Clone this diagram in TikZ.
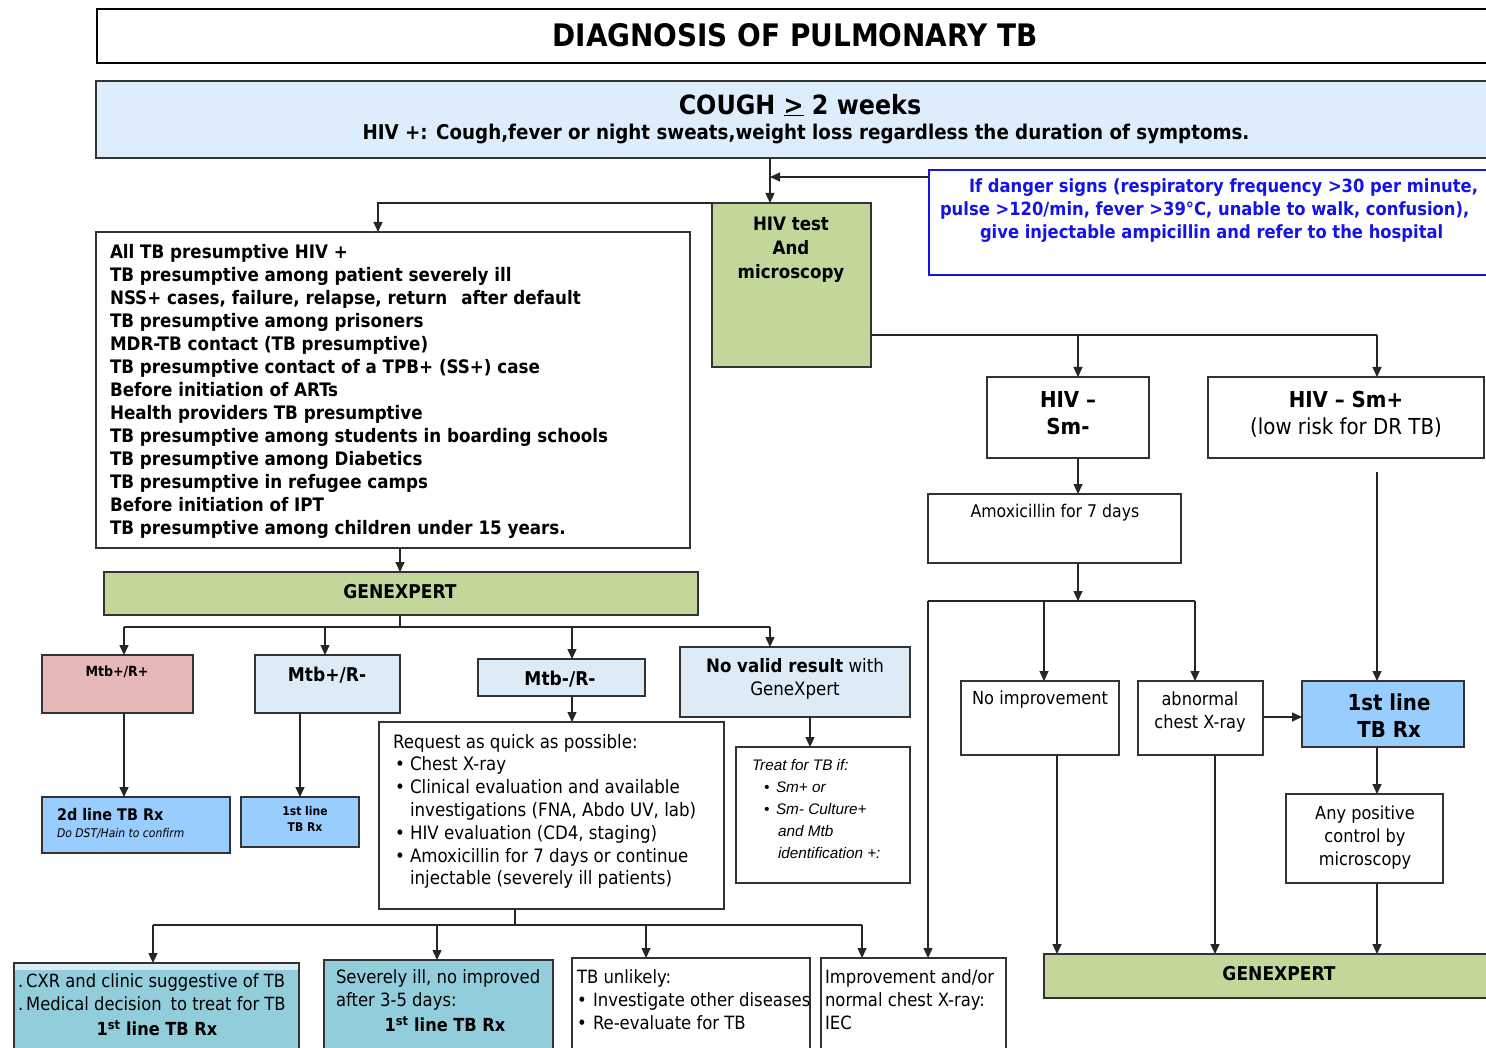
\documentclass[tikz,border=0pt]{standalone}
\usepackage{fontspec}
\setmainfont{DejaVu Sans Condensed}
\newfontfamily\arialf{Liberation Sans}
\usetikzlibrary{arrows.meta}
\definecolor{cblue}{HTML}{DEEDFB}
\definecolor{cgreen}{HTML}{C4D79B}
\definecolor{cpink}{HTML}{E6B8B7}
\definecolor{clblue}{HTML}{DDEBF7}
\definecolor{cmblue}{HTML}{99CCFF}
\definecolor{cteal}{HTML}{92CDDC}
\definecolor{dblue}{HTML}{1414E6}
\definecolor{lgray}{HTML}{333333}
\newcommand{\fs}[2]{\fontsize{#1pt}{#2pt}\selectfont}
\newcommand{\mybox}[6][]{\node[box,#1,minimum width={#4-#2},minimum height={#5-#3}] (#6) at (#2,#3) {};}
\tikzset{
  box/.style={draw=lgray, line width=1.3pt, anchor=north west, inner sep=0pt, outer sep=0pt},
  txt/.style={inner sep=0pt, outer sep=0pt},
  arr/.style={-{Triangle[length=10pt,width=9pt]}, line width=1.4pt, draw=black!85},
  ln/.style={line width=1.4pt, draw=black!85}
}
\begin{document}
\begin{tikzpicture}[x=1pt,y=-1pt]
\useasboundingbox (0,0) rectangle (1486,1048);
\fill[white] (0,0) rectangle (1486,1048);

% title
\mybox[line width=2pt,draw=black]{97}{9}{1500}{63}{title}
\node[txt,font=\bfseries\fs{31}{36}] (titlet) at (795,35) {DIAGNOSIS OF PULMONARY TB};

% cough
\mybox[fill=cblue]{96}{81}{1500}{158}{cough}
\node[txt,font=\bfseries\fs{26.5}{30}] (c1) at (800,105) {COUGH \underline{>} 2 weeks};
\node[txt,font=\bfseries\fs{20.3}{24}] (c2) at (806,134) {HIV +: Cough,fever or night sweats,weight loss regardless the duration of symptoms.};

% danger
\mybox[draw=dblue,line width=2.5pt]{929}{170}{1500}{275}{danger}
\node[txt,font=\bfseries\fs{18.2}{23},text=dblue,align=left,anchor=north west] (dt) at (940,179)
 {\hspace*{29pt}If danger signs (respiratory frequency >30 per minute,\\
  pulse >120/min, fever >39°C, unable to walk, confusion),\\
  \hspace*{40pt}give injectable ampicillin and refer to the hospital};

% HIV test
\mybox[fill=cgreen]{712}{203}{871}{367}{hiv}
\node[txt,font=\bfseries\fs{18.5}{24},align=center,anchor=north] (hivt) at (791,217) {HIV test\\And\\microscopy};

% left list
\mybox{96}{232}{690}{548}{lbox}
\node[txt,font=\bfseries\fs{18.6}{23},align=left,anchor=north west] (lt) at (110,244)
 {All TB presumptive HIV +\\
  TB presumptive among patient severely ill\\
  NSS+ cases, failure, relapse, return\hspace{14pt}after default\\
  TB presumptive among prisoners\\
  MDR-TB contact (TB presumptive)\\
  TB presumptive contact of a TPB+ (SS+) case\\
  Before initiation of ARTs\\
  Health providers TB presumptive\\
  TB presumptive among students in boarding schools\\
  TB presumptive among Diabetics\\
  TB presumptive in refugee camps\\
  Before initiation of IPT\\
  TB presumptive among children under 15 years.};

% connectors top
\coordinate (jn) at (770,177);
\draw[arr] (770,0 |- cough.south) -- (770,0 |- hiv.north);
\draw[arr] ([yshift=-7pt]danger.north west) -- (jn);
\draw[arr] (hiv.north west) -- (378,0 |- hiv.north) -- (378,0 |- lbox.north);

% GENEXPERT 1
\mybox[fill=cgreen]{104}{572}{698}{615}{gx1}
\node[txt,font=\bfseries\fs{19}{22}] (gx1t) at (400,592) {GENEXPERT};
\draw[arr] (400,0 |- lbox.south) -- (400,0 |- gx1.north);
\coordinate (b1) at (400,627);
\draw[ln] (400,0 |- gx1.south) -- (b1);
\draw[ln] (124,627) -- (770,627);

% Mtb boxes
\mybox[fill=cpink]{42}{655}{193}{713}{m1}
\node[txt,font=\bfseries\fs{14}{17}] (m1t) at (117,672) {Mtb+/R+};
\mybox[fill=clblue]{255}{655}{400}{713}{m2}
\node[txt,font=\bfseries\fs{19}{22}] (m2t) at (327,675) {Mtb+/R-};
\mybox[fill=clblue]{478}{659}{645}{696}{m3}
\node[txt,font=\bfseries\fs{19}{22}] (m3t) at (560,679) {Mtb-/R-};
\mybox[fill=clblue]{680}{647}{910}{717}{m4}
\node[txt,font=\fs{18.5}{23},align=center,anchor=north] (m4t) at (795,658) {\textbf{No valid result} with\\GeneXpert};
\draw[arr] (124,627) -- (124,0 |- m1.north);
\draw[arr] (325,627) -- (325,0 |- m2.north);
\draw[arr] (572,627) -- (572,0 |- m3.north);
\draw[arr] (770,627) -- (770,0 |- m4.north);

% Rx boxes
\mybox[fill=cmblue]{42}{797}{230}{853}{r2}
\node[txt,anchor=west,font=\bfseries\fs{16}{19}] (r2a) at (57,815) {2d line TB Rx};
\node[txt,anchor=west,font=\itshape\fs{12}{14}] (r2b) at (57,833) {Do DST/Hain to confirm};
\draw[arr] (124,0 |- m1.south) -- (124,0 |- r2.north);
\mybox[fill=cmblue]{241}{797}{359}{847}{r1}
\node[txt,font=\bfseries\fs{12}{16},align=center,anchor=north] (r1t) at (305,806) {1st line\\TB Rx};
\draw[arr] (300,0 |- m2.south) -- (300,0 |- r1.north);

% Request box
\mybox{379}{722}{724}{909}{req}
\node[txt,font=\fs{18.5}{22.8},align=left,anchor=north west] (reqt) at (393,734)
 {Request as quick as possible:\\
  \hspace*{2pt}\makebox[15pt][l]{•}Chest X-ray\\
  \hspace*{2pt}\makebox[15pt][l]{•}Clinical evaluation and available\\
  \hspace*{17pt}investigations (FNA, Abdo UV, lab)\\
  \hspace*{2pt}\makebox[15pt][l]{•}HIV evaluation (CD4, staging)\\
  \hspace*{2pt}\makebox[15pt][l]{•}Amoxicillin for 7 days or continue\\
  \hspace*{17pt}injectable (severely ill patients)};
\draw[arr] (572,0 |- m3.south) -- (572,0 |- req.north);

% Treat box
\mybox{736}{747}{910}{883}{treat}
\node[txt,font=\arialf\itshape\fs{15.3}{22},align=left,anchor=north west] (treatt) at (752,759)
 {Treat for TB if:\\
  \hspace*{12pt}\makebox[12pt][l]{•}Sm+ or\\
  \hspace*{12pt}\makebox[12pt][l]{•}Sm- Culture+\\
  \hspace*{26pt}and Mtb\\
  \hspace*{26pt}identification +:};
\draw[arr] (810,0 |- m4.south) -- (810,0 |- treat.north);

% bottom branch
\coordinate (b2) at (515,925);
\draw[ln] (515,0 |- req.south) -- (b2);
\draw[ln] (153,925) -- (862,925);

\mybox[fill=cteal]{14}{963}{299}{1052}{ba}
\fill[cteal!35] (14.7,963.7) rectangle (298.3,970);
\node[txt,font=\fs{18.2}{22.5},align=left,anchor=north west] (bat) at (18,974)
 {.\,CXR and clinic suggestive of TB\\.\,Medical decision\hspace{9pt}to treat for TB};
\node[txt,font=\bfseries\fs{18}{22}] (bab) at (157,1028) {1\textsuperscript{st} line TB Rx};
\mybox[fill=cteal]{324}{960}{553}{1052}{bb}
\node[txt,font=\fs{18.3}{23},align=left,anchor=north west] (bbt) at (336,970)
 {Severely ill, no improved\\after 3-5 days:};
\node[txt,font=\bfseries\fs{18}{22}] (bbb) at (445,1024) {1\textsuperscript{st} line TB Rx};
\mybox{572}{958}{810}{1052}{bc}
\node[txt,font=\fs{18.3}{23},align=left,anchor=north west] (bct) at (577,970)
 {TB unlikely:\\\makebox[16pt][l]{•}Investigate other diseases\\\makebox[16pt][l]{•}Re-evaluate for TB};
\mybox{821}{958}{1006}{1052}{bd}
\node[txt,font=\fs{18.3}{23},align=left,anchor=north west] (bdt) at (825,970)
 {Improvement and/or\\normal chest X-ray:\\IEC};
\draw[arr] (153,925) -- (153,0 |- ba.north);
\draw[arr] (437,925) -- (437,0 |- bb.north);
\draw[arr] (646,925) -- (646,0 |- bc.north);
\draw[arr] (862,925) -- (862,0 |- bd.north);

% right side
\mybox{987}{377}{1149}{458}{sm1}
\node[txt,font=\bfseries\fs{22}{27},align=center,anchor=north] (sm1t) at (1068,391) {HIV –\\Sm-};
\mybox{1208}{377}{1484}{458}{sm2}
\node[txt,font=\fs{22}{27},align=center,anchor=north] (sm2t) at (1346,391) {\textbf{HIV – Sm+}\\(low risk for DR TB)};
\draw[ln] (hiv.east |- 0,335) -- (1377,335);
\draw[arr] (1377,335) -- (1377,0 |- sm2.north);
\draw[arr] (1078,335) -- (1078,0 |- sm1.north);

\mybox{928}{494}{1181}{563}{amox}
\node[txt,font=\fs{17.5}{22}] (amoxt) at (1055,513) {Amoxicillin for 7 days};
\draw[arr] (1078,0 |- sm1.south) -- (1078,0 |- amox.north);
\coordinate (b3) at (1078,601);
\draw[arr] (1078,0 |- amox.south) -- (b3);
\draw[ln] (928,601) -- (1195,601);

\mybox{961}{681}{1119}{755}{noimp}
\node[txt,font=\fs{18}{23}] (noimpt) at (1040,700) {No improvement};
\mybox{1138}{681}{1263}{755}{abn}
\node[txt,font=\fs{18}{23},align=center,anchor=north] (abnt) at (1200,692) {abnormal\\chest X-ray};
\mybox[fill=cmblue]{1302}{681}{1464}{747}{fl}
\node[txt,font=\bfseries\fs{22}{27},align=center,anchor=north] (flt) at (1389,694) {1st line\\TB Rx};
\mybox{1286}{794}{1443}{883}{anyp}
\node[txt,font=\fs{18}{23},align=center,anchor=north] (anypt) at (1365,806) {Any positive\\control by\\microscopy};
\mybox[fill=cgreen]{1044}{954}{1500}{998}{gx2}
\node[txt,font=\bfseries\fs{19}{22}] (gx2t) at (1279,974) {GENEXPERT};

\draw[arr] (928,601) -- (928,0 |- bd.north);
\draw[arr] (1044,601) -- (1044,0 |- noimp.north);
\draw[arr] (1195,601) -- (1195,0 |- abn.north);
\draw[arr] (abn.east |- 0,717) -- (fl.west |- 0,717);
\coordinate (smtail) at (1377,472);
\draw[arr] (smtail) -- (1377,0 |- fl.north);
\draw[arr] (1377,0 |- fl.south) -- (1377,0 |- anyp.north);
\draw[arr] (1377,0 |- anyp.south) -- (1377,0 |- gx2.north);
\draw[arr] (1057,0 |- noimp.south) -- (1057,0 |- gx2.north);
\draw[arr] (1215,0 |- abn.south) -- (1215,0 |- gx2.north);
\end{tikzpicture}
\end{document}
